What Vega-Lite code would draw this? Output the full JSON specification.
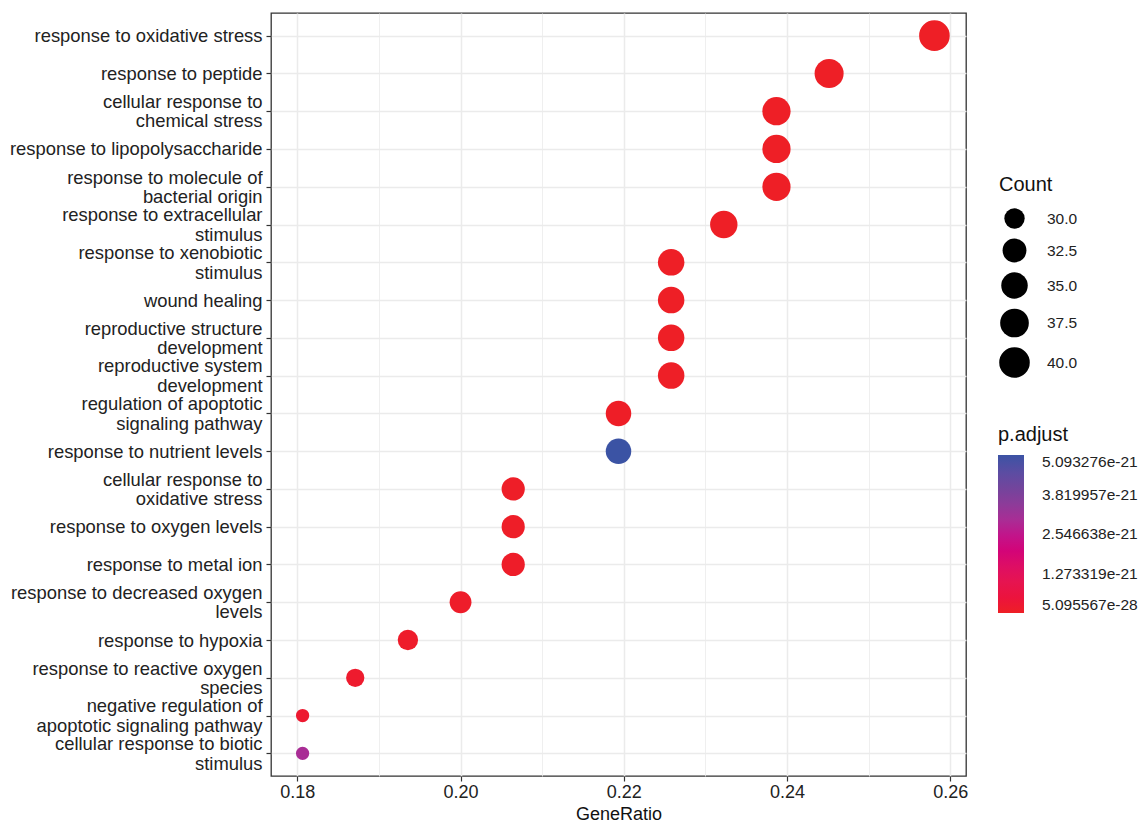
{
  "$schema": "https://vega.github.io/schema/vega-lite/v6.json",
  "width": 695,
  "height": 763,
  "padding": {"left": 9, "top": 13, "right": 0, "bottom": 0},
  "background": "white",
  "data": {
    "values": [
      {"Description": "response to oxidative stress", "Count": 40, "GeneRatio": 0.258065, "padjust": 5.1e-28},
      {"Description": "response to peptide", "Count": 38, "GeneRatio": 0.245161, "padjust": 1.2e-26},
      {"Description": "cellular response to\nchemical stress", "Count": 37, "GeneRatio": 0.238710, "padjust": 3.5e-26},
      {"Description": "response to lipopolysaccharide", "Count": 37, "GeneRatio": 0.238710, "padjust": 8.0e-25},
      {"Description": "response to molecule of\nbacterial origin", "Count": 37, "GeneRatio": 0.238710, "padjust": 1.1e-24},
      {"Description": "response to extracellular\nstimulus", "Count": 36, "GeneRatio": 0.232258, "padjust": 2.3e-24},
      {"Description": "response to xenobiotic\nstimulus", "Count": 35, "GeneRatio": 0.225806, "padjust": 4.2e-24},
      {"Description": "wound healing", "Count": 35, "GeneRatio": 0.225806, "padjust": 6.5e-24},
      {"Description": "reproductive structure\ndevelopment", "Count": 35, "GeneRatio": 0.225806, "padjust": 9.1e-24},
      {"Description": "reproductive system\ndevelopment", "Count": 35, "GeneRatio": 0.225806, "padjust": 1.2e-23},
      {"Description": "regulation of apoptotic\nsignaling pathway", "Count": 34, "GeneRatio": 0.219355, "padjust": 2.0e-23},
      {"Description": "response to nutrient levels", "Count": 34, "GeneRatio": 0.219355, "padjust": 5.093276e-21},
      {"Description": "cellular response to\noxidative stress", "Count": 32, "GeneRatio": 0.206452, "padjust": 3.1e-23},
      {"Description": "response to oxygen levels", "Count": 32, "GeneRatio": 0.206452, "padjust": 4.5e-23},
      {"Description": "response to metal ion", "Count": 32, "GeneRatio": 0.206452, "padjust": 6.0e-23},
      {"Description": "response to decreased oxygen\nlevels", "Count": 31, "GeneRatio": 0.2, "padjust": 8.0e-23},
      {"Description": "response to hypoxia", "Count": 30, "GeneRatio": 0.193548, "padjust": 9.5e-23},
      {"Description": "response to reactive oxygen\nspecies", "Count": 29, "GeneRatio": 0.187097, "padjust": 1.5e-22},
      {"Description": "negative regulation of\napoptotic signaling pathway", "Count": 28, "GeneRatio": 0.180645, "padjust": 2.0e-22},
      {"Description": "cellular response to biotic\nstimulus", "Count": 28, "GeneRatio": 0.180645, "padjust": 3.0e-21}
    ]
  },
  "mark": {"type": "circle", "opacity": 1, "strokeWidth": 0},
  "encoding": {
    "x": {
      "field": "GeneRatio",
      "type": "quantitative",
      "scale": {"domain": [0.176774, 0.261935], "nice": false, "zero": false},
      "axis": {
        "title": "GeneRatio",
        "values": [0.18, 0.19, 0.2, 0.21, 0.22, 0.23, 0.24, 0.25, 0.26],
        "labelExpr": "round(datum.value*100) % 2 == 0 ? format(datum.value, '.2f') : ''",
        "gridWidth": {"condition": {"test": "round(datum.value*100) % 2 == 1", "value": 0.8}, "value": 1.5},
        "tickOpacity": {"condition": {"test": "round(datum.value*100) % 2 == 1", "value": 0}, "value": 1},
        "labelFlush": false,
        "labelOverlap": false,
        "labelPadding": 2,
        "titlePadding": 4
      }
    },
    "y": {
      "field": "Description",
      "type": "nominal",
      "sort": null,
      "scale": {"type": "point", "padding": 0.6},
      "axis": {
        "title": null,
        "labelExpr": "split(datum.label, '\\n')",
        "labelLineHeight": 19.5,
        "labelFontSize": 18.4,
        "labelOffset": {"condition": {"test": "indexof(datum.value, '\\n') >= 0", "value": -9.75}, "value": 0},
        "labelLimit": 400
      }
    },
    "size": {
      "field": "Count",
      "type": "quantitative",
      "scale": {"domain": [28, 29, 30, 32.5, 35, 37.5, 40], "range": [177, 334, 414, 570, 702, 822, 935]},
      "legend": {
        "title": "Count",
        "orient": "none",
        "legendX": 728,
        "legendY": 162,
        "values": [30, 32.5, 35, 37.5, 40],
        "format": ".1f",
        "symbolFillColor": "black",
        "symbolStrokeColor": "black",
        "symbolStrokeWidth": 0,
        "symbolOpacity": 1,
        "labelOffset": 17,
        "rowPadding": 9.5,
        "titlePadding": 13
      }
    },
    "color": {
      "field": "padjust",
      "type": "quantitative",
      "scale": {
        "domain": [5.095567e-28, 1.273319e-21, 2.546638e-21, 3.819957e-21, 5.093276e-21],
        "range": ["#EE1F26", "#E2195A", "#C0168C", "#7C4199", "#3B53A4"]
      },
      "legend": {
        "title": "p.adjust",
        "orient": "none",
        "legendX": 727,
        "legendY": 412,
        "values": [5.095567e-28, 1.273319e-21, 2.546638e-21, 3.819957e-21, 5.093276e-21],
        "format": ".6e",
        "labelOverlap": false,
        "gradientLength": 158,
        "gradientThickness": 26,
        "gradientStrokeWidth": 0,
        "labelOffset": 18
      }
    }
  },
  "config": {
    "font": "Liberation Sans",
    "view": {"stroke": "#333333", "strokeWidth": 1.3},
    "axis": {
      "domain": false,
      "grid": true,
      "gridColor": "#EBEBEB",
      "gridWidth": 1.5,
      "tickColor": "#333333",
      "tickSize": 5,
      "tickWidth": 1.2,
      "labelFontSize": 18,
      "labelColor": "#222222",
      "labelPadding": 4,
      "titleFontSize": 18,
      "titleFontWeight": "normal",
      "titleColor": "#111111",
      "titlePadding": 4
    },
    "legend": {
      "titleFontSize": 20,
      "titleFontWeight": "normal",
      "titleColor": "#111111",
      "titlePadding": 10,
      "labelFontSize": 15.5,
      "labelColor": "#222222"
    }
  }
}
